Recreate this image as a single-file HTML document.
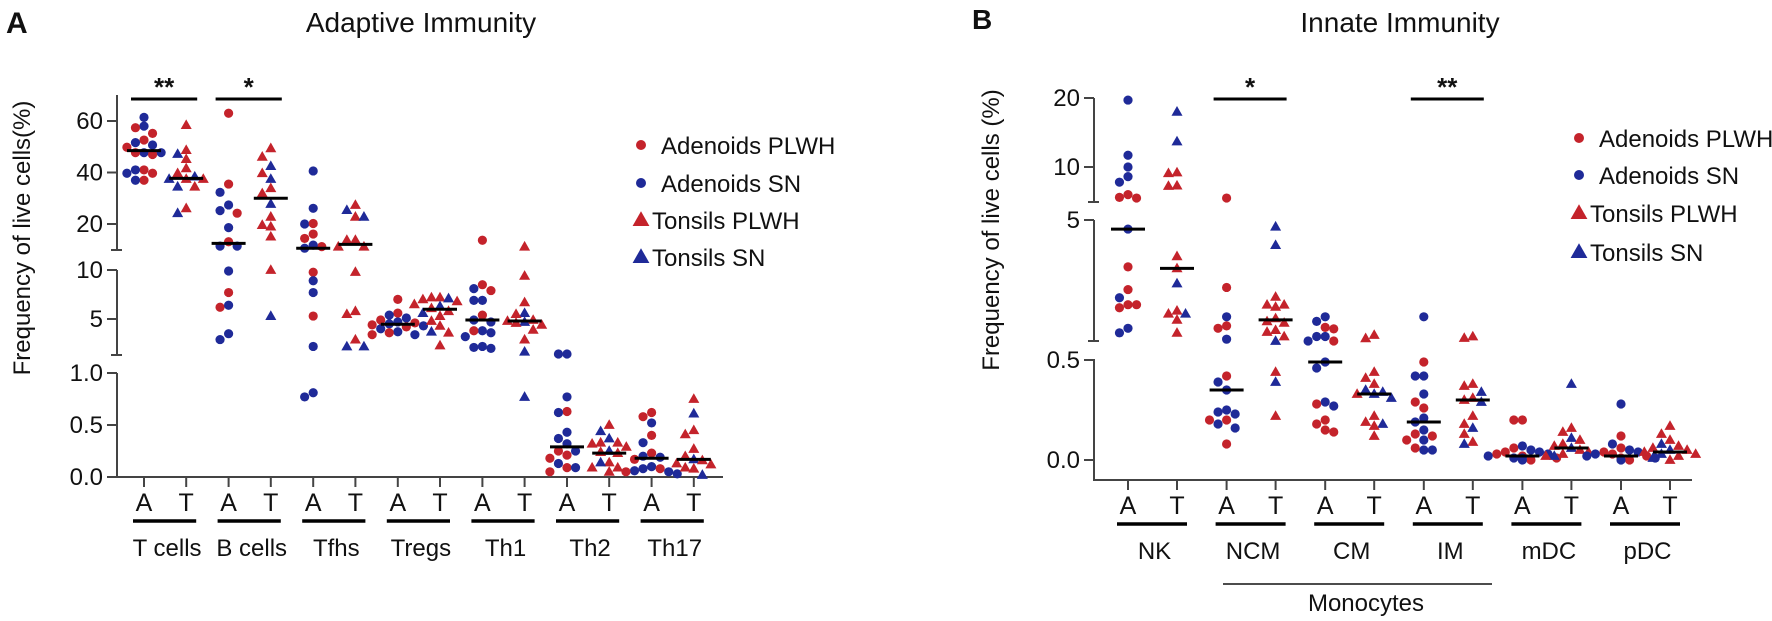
<!DOCTYPE html>
<html><head><meta charset="utf-8"><style>
html,body{margin:0;padding:0;background:#fff}
svg{display:block}
text{font-family:"Liberation Sans",Arial,sans-serif;fill:#111}
</style></head><body>
<svg id="fig" width="1772" height="621" viewBox="0 0 1772 621" xmlns="http://www.w3.org/2000/svg">
<g id="pa">
  <text x="6" y="33" font-size="30" font-weight="bold">A</text>
  <text x="421" y="32" font-size="28" text-anchor="middle">Adaptive Immunity</text>
  <text transform="translate(30,238) rotate(-90)" font-size="24" text-anchor="middle">Frequency of live cells(%)</text>
</g>
<g id="pb">
  <text x="972" y="29" font-size="28" font-weight="bold">B</text>
  <text x="1400" y="32" font-size="28" text-anchor="middle">Innate Immunity</text>
  <text transform="translate(999,230) rotate(-90)" font-size="24" text-anchor="middle">Frequency of live cells (%)</text>
  <line x1="1223" y1="584" x2="1492" y2="584" stroke="#111" stroke-width="1.5"/>
  <text x="1366" y="611" font-size="24" text-anchor="middle">Monocytes</text>
</g>
</svg>
<script>
// ---------- Panel A data ----------
const aGroups = ["T cells","B cells","Tfhs","Tregs","Th1","Th2","Th17"];
const aColLabels = ["A","T","A","T","A","T","A","T","A","T","A","T","A","T"];
const aValues = [
 [61.4,58,57.4,55.2,52.6,51.6,50.7,49.8,47.7,47.7,47.7,47,41,41,39.7,39.7,37,37],
 [58.4,48.7,47.2,45.2,41.6,39.7,38.4,37.5,37.5,37.5,34.5,34.5,26.1,24.2],
 [63,35.5,32.3,27.4,25.2,24.2,18.6,13.1,11.4,11.4,9.9,7.7,6.2,6.4,3.5,2.9],
 [49.4,46.1,42.5,39.7,37.5,33.9,31.9,27.8,22.8,19.6,19,15.1,10,5.3],
 [40.6,26.1,20,20.2,16.1,14.4,11.2,11.8,10.6,9.77,8.9,7.7,5.3,2.2,0.77,0.81],
 [27.4,25.4,22.8,22.8,13.8,13.8,11.2,11.2,9.8,5.8,5.5,2.9,2.2,2.2],
 [7.0,5.6,5.4,5.1,4.9,4.7,4.6,4.5,4.4,4.3,4.2,4.0,3.7,3.6,3.4,3.4],
 [7.2,7.2,7.1,7.0,6.8,6.5,6.3,6.1,5.8,5.6,5.3,4.8,4.3,3.7,3.6,2.3],
 [13.7,8.5,8.1,7.9,6.9,6.9,5.4,4.9,4.7,3.8,3.8,3.6,3.2,2.1,2.2,2.0],
 [11.2,9.4,6.7,5.6,5.5,4.9,4.8,4.7,4.6,4.4,3.9,2.9,1.66,0.77],
 [1.43,1.43,0.77,0.63,0.62,0.43,0.37,0.32,0.25,0.25,0.21,0.18,0.13,0.09,0.09,0.05],
 [0.5,0.44,0.37,0.33,0.33,0.32,0.29,0.25,0.24,0.23,0.14,0.14,0.09,0.09,0.05],
 [0.62,0.58,0.52,0.40,0.33,0.23,0.20,0.19,0.17,0.10,0.08,0.08,0.06,0.05,0.05,0.03],
 [0.75,0.61,0.45,0.41,0.27,0.20,0.17,0.16,0.13,0.12,0.09,0.08,0.02]
];
const aTypes = ["bbrrrbbrbrbrrbrbrb","rrbrrrbrbrbrrb","rrbbbrbrbbbrrbbb","rrbrbrrbrrrrrb","bbbrrrrbbrbbrbbb","rbrbrrrrrrrrbb","rrbbrbrbrbrbbrbr","rrbrrrbrrbrrrbrr","rrbrbbrbbbrbbbbb","rrrbrrrbrrrrbb","bbbrbbbbrbrrbrbr","rbbrrrrbrrrbrrr","rrbrbrbbrbbrbbrb","rbrrrrbrrrrrb"];
const aMedians = [48.5,37.7,12.5,30,10.6,12.1,4.46,6.0,4.9,4.8,0.29,0.23,0.18,0.17];
const aTicks = [60,40,20,10,5,1.0,0.5,0.0];
const aTickLabels = ["60","40","20","10","5","1.0","0.5","0.0"];
const aSig = [[0,"**"],[1,"*"]];

// ---------- Panel B data ----------
const bGroups = ["NK","NCM","CM","IM","mDC","pDC"];
const bColLabels = ["A","T","A","T","A","T","A","T","A","T","A","T"];
const bValues = [
 [19.7,11.7,10.0,8.6,7.8,6.0,5.6,5.5,4.7,3.45,2.7,2.43,2.2,2.2,2.1,1.42,1.27],
 [18.0,13.7,9.1,9.2,7.25,7.3,3.8,3.4,2.9,1.9,2.0,1.7,1.9,1.27],
 [5.5,2.77,1.8,1.5,1.42,1.06,0.42,0.39,0.35,0.25,0.23,0.24,0.2,0.2,0.18,0.16,0.08],
 [4.78,4.17,2.46,2.2,2.13,2.2,1.75,1.65,1.6,1.36,1.3,1.15,1.0,0.44,0.39,0.22],
 [1.8,1.65,1.45,1.4,1.15,1.15,1.0,1.0,0.49,0.46,0.29,0.27,0.28,0.2,0.18,0.15,0.14],
 [1.2,1.09,0.44,0.41,0.38,0.35,0.34,0.33,0.33,0.31,0.22,0.19,0.18,0.17,0.12],
 [1.8,0.49,0.42,0.42,0.33,0.29,0.26,0.21,0.19,0.15,0.13,0.12,0.1,0.1,0.05,0.06,0.05],
 [1.15,1.1,0.38,0.37,0.34,0.30,0.31,0.29,0.22,0.18,0.16,0.13,0.09,0.08],
 [0.2,0.2,0.06,0.07,0.05,0.04,0.04,0.03,0.03,0.02,0.02,0.01,0.01,0.01,0.0,0.0],
 [0.38,0.16,0.14,0.11,0.1,0.08,0.07,0.06,0.05,0.04,0.03,0.02,0.02],
 [0.28,0.12,0.08,0.06,0.05,0.04,0.04,0.03,0.03,0.02,0.02,0.01,0.01,0.0,0.0],
 [0.17,0.13,0.1,0.08,0.07,0.06,0.05,0.05,0.04,0.03,0.03,0.02,0.01,0.0]
];
const bTypes = ["bbbbbrrrbrrbrrrbb","bbrrrrrrbrrrbr","rrbrrbrbbbbbrrbbr","bbrrrrrrrrrrbrbr","bbrrbbrbbbbbrrrrr","rrrrrbbbrbrrbrr","brbbbrrbbbrrbrbrb","rrrrbrrbrrbrrb","rrrbbrbrbrbbrbrb","brrbrrrbrrrbr","brbrbrbrbrbrbrb","rrrbrrbrrbrrbr"];
const bMedians = [4.7,3.4,0.35,1.7,0.49,0.33,0.19,0.30,0.02,0.06,0.02,0.04];
const bTicks = [20,10,5,0.5,0.0];
const bTickLabels = ["20","10","5","0.5","0.0"];
const bSig = [[1,"*"],[3,"**"]];

const legendLabels = ["Adenoids PLWH","Adenoids SN","Tonsils PLWH","Tonsils SN"];
const RED="#c4232b", BLUE="#1f2a98";
const NS="http://www.w3.org/2000/svg";

function yA(v){ if(v>=10.5) return 224-(v-20)*2.575; if(v>=1.2) return 270-(v-10)*9.8; return 477-v*104; }
function yB(v){ if(v>=5.2) return 167-(v-10)*6.9; if(v>=0.85) return 220+(5-v)*30.25; return 460-v*200; }
function xA(i){ return 144+Math.floor(i/2)*84.6+(i%2)*42.2; }
function xB(i){ return 1128+Math.floor(i/2)*98.6+(i%2)*49; }

function mk(parent,tag,attrs){ const e=document.createElementNS(NS,tag); for(const k in attrs) e.setAttribute(k,attrs[k]); parent.appendChild(e); return e; }

function swarm(ys){
  const order=ys.map((y,i)=>i).sort((a,b)=>ys[a]-ys[b]);
  const placed=[]; const dx=new Array(ys.length).fill(0);
  const d=9, steps=[0,-1,1,-2,2,-3,3,-4,4];
  for(const i of order){
    for(const s of steps){
      const x=s*d*0.95;
      if(placed.every(p=>Math.hypot(p[0]-x,p[1]-ys[i])>=d-0.5)){ dx[i]=x; placed.push([x,ys[i]]); break; }
    }
  }
  return dx;
}

function marker(g,x,y,tri,col,r){
  let el;
  if(tri){ el=mk(g,"polygon",{points:`${x},${y-r*1.25} ${x-r*1.2},${y+r*0.85} ${x+r*1.2},${y+r*0.85}`,fill:col}); }
  else { el=mk(g,"circle",{cx:x,cy:y,r:r,fill:col}); }
  return el;
}

function drawPanel(cfg){
  const g=document.getElementById(cfg.id);
  for(const s of cfg.segs){
    const l=mk(g,"line",{x1:cfg.ax,y1:s[0],x2:cfg.ax,y2:s[1],stroke:"#444","stroke-width":2});
    
    
    if(s[2]){ const c=mk(g,"line",{x1:cfg.ax-6,y1:s[1],x2:cfg.ax+5,y2:s[1],stroke:"#444","stroke-width":2});
      
       }
  }
  cfg.ticks.forEach((v,i)=>{
    const y=cfg.yf(v);
    const t=mk(g,"line",{x1:cfg.ax-10,y1:y,x2:cfg.ax,y2:y,stroke:"#444","stroke-width":2});
    
    
    const tx=mk(g,"text",{x:cfg.ax-14,y:y+8,"font-size":24,"text-anchor":"end"});
    tx.textContent=cfg.tickLabels[i];
    
    
  });
  const xa=mk(g,"line",{x1:cfg.ax-1,y1:cfg.axisY,x2:cfg.axEnd,y2:cfg.axisY,stroke:"#444","stroke-width":2});
  
  
  const n=cfg.values.length;
  for(let i=0;i<n;i++){
    const x=cfg.xf(i);
    const t=mk(g,"line",{x1:x,y1:cfg.axisY,x2:x,y2:cfg.axisY+10,stroke:"#444","stroke-width":2});
    
    
    const lb=mk(g,"text",{x:x,y:cfg.axisY+34,"font-size":25,"text-anchor":"middle"});
    lb.textContent=cfg.colLabels[i];
    
    
    const ys=cfg.values[i].map(cfg.yf);
    const dx=swarm(ys);
    const tri=(i%2===1);
    cfg.values[i].forEach((v,j)=>{
      const col=cfg.types[i][j]==='r'?RED:BLUE;
      const m=marker(g,x+dx[j],ys[j],tri,col,4.6);
      
      
    });
    const my=cfg.yf(cfg.medians[i]);
    const ml=mk(g,"line",{x1:x-17,y1:my,x2:x+17,y2:my,stroke:"#000","stroke-width":3});
    
    
  }
  cfg.groups.forEach((name,k)=>{
    const xa0=cfg.xf(2*k), xt=cfg.xf(2*k+1);
    const ul=mk(g,"line",{x1:xa0-11,y1:cfg.axisY+44,x2:xt+10,y2:cfg.axisY+44,stroke:"#000","stroke-width":3.5});
    
    
    const tx=mk(g,"text",{x:(xa0+xt)/2+2,y:cfg.axisY+79,"font-size":24,"text-anchor":"middle"});
    tx.textContent=name;
    
    
  });
  cfg.sig.forEach(([k,s])=>{
    const xa0=cfg.xf(2*k), xt=cfg.xf(2*k+1);
    const b=mk(g,"line",{x1:xa0-13,y1:99,x2:xt+11,y2:99,stroke:"#000","stroke-width":3});
    
    
    const tx=mk(g,"text",{x:(xa0+xt)/2-1,y:96,"font-size":26,"font-weight":"bold","text-anchor":"middle"});
    tx.textContent=s;
    
    
  });
  legendLabels.forEach((lab,k)=>{
    const y=cfg.legY[k];
    const tri=k>=2, col=(k%2===0)?RED:BLUE;
    const m=marker(g,cfg.legX,y,tri,col,tri?7:5);
    
    
    const tx=mk(g,"text",{x:tri?cfg.legX+11:cfg.legX+20,y:y+9,"font-size":24});
    tx.textContent=lab;
    
    
  });
}

drawPanel({id:"pa",ax:117,axEnd:723,axisY:477,yf:yA,xf:xA,values:aValues,types:aTypes,medians:aMedians,
  ticks:aTicks,tickLabels:aTickLabels,colLabels:aColLabels,groups:aGroups,sig:aSig,
  segs:[[95,250,true],[270,355,true],[373,477,false]],legX:641,legY:[145,183,220,257]});
drawPanel({id:"pb",ax:1094,axEnd:1692,axisY:480,yf:yB,xf:xB,values:bValues,types:bTypes,medians:bMedians,
  ticks:bTicks,tickLabels:bTickLabels,colLabels:bColLabels,groups:bGroups,sig:bSig,
  segs:[[98,202,true],[220,341,true],[359,480,false]],legX:1579,legY:[138,175,213,252]});
</script>
</body></html>
